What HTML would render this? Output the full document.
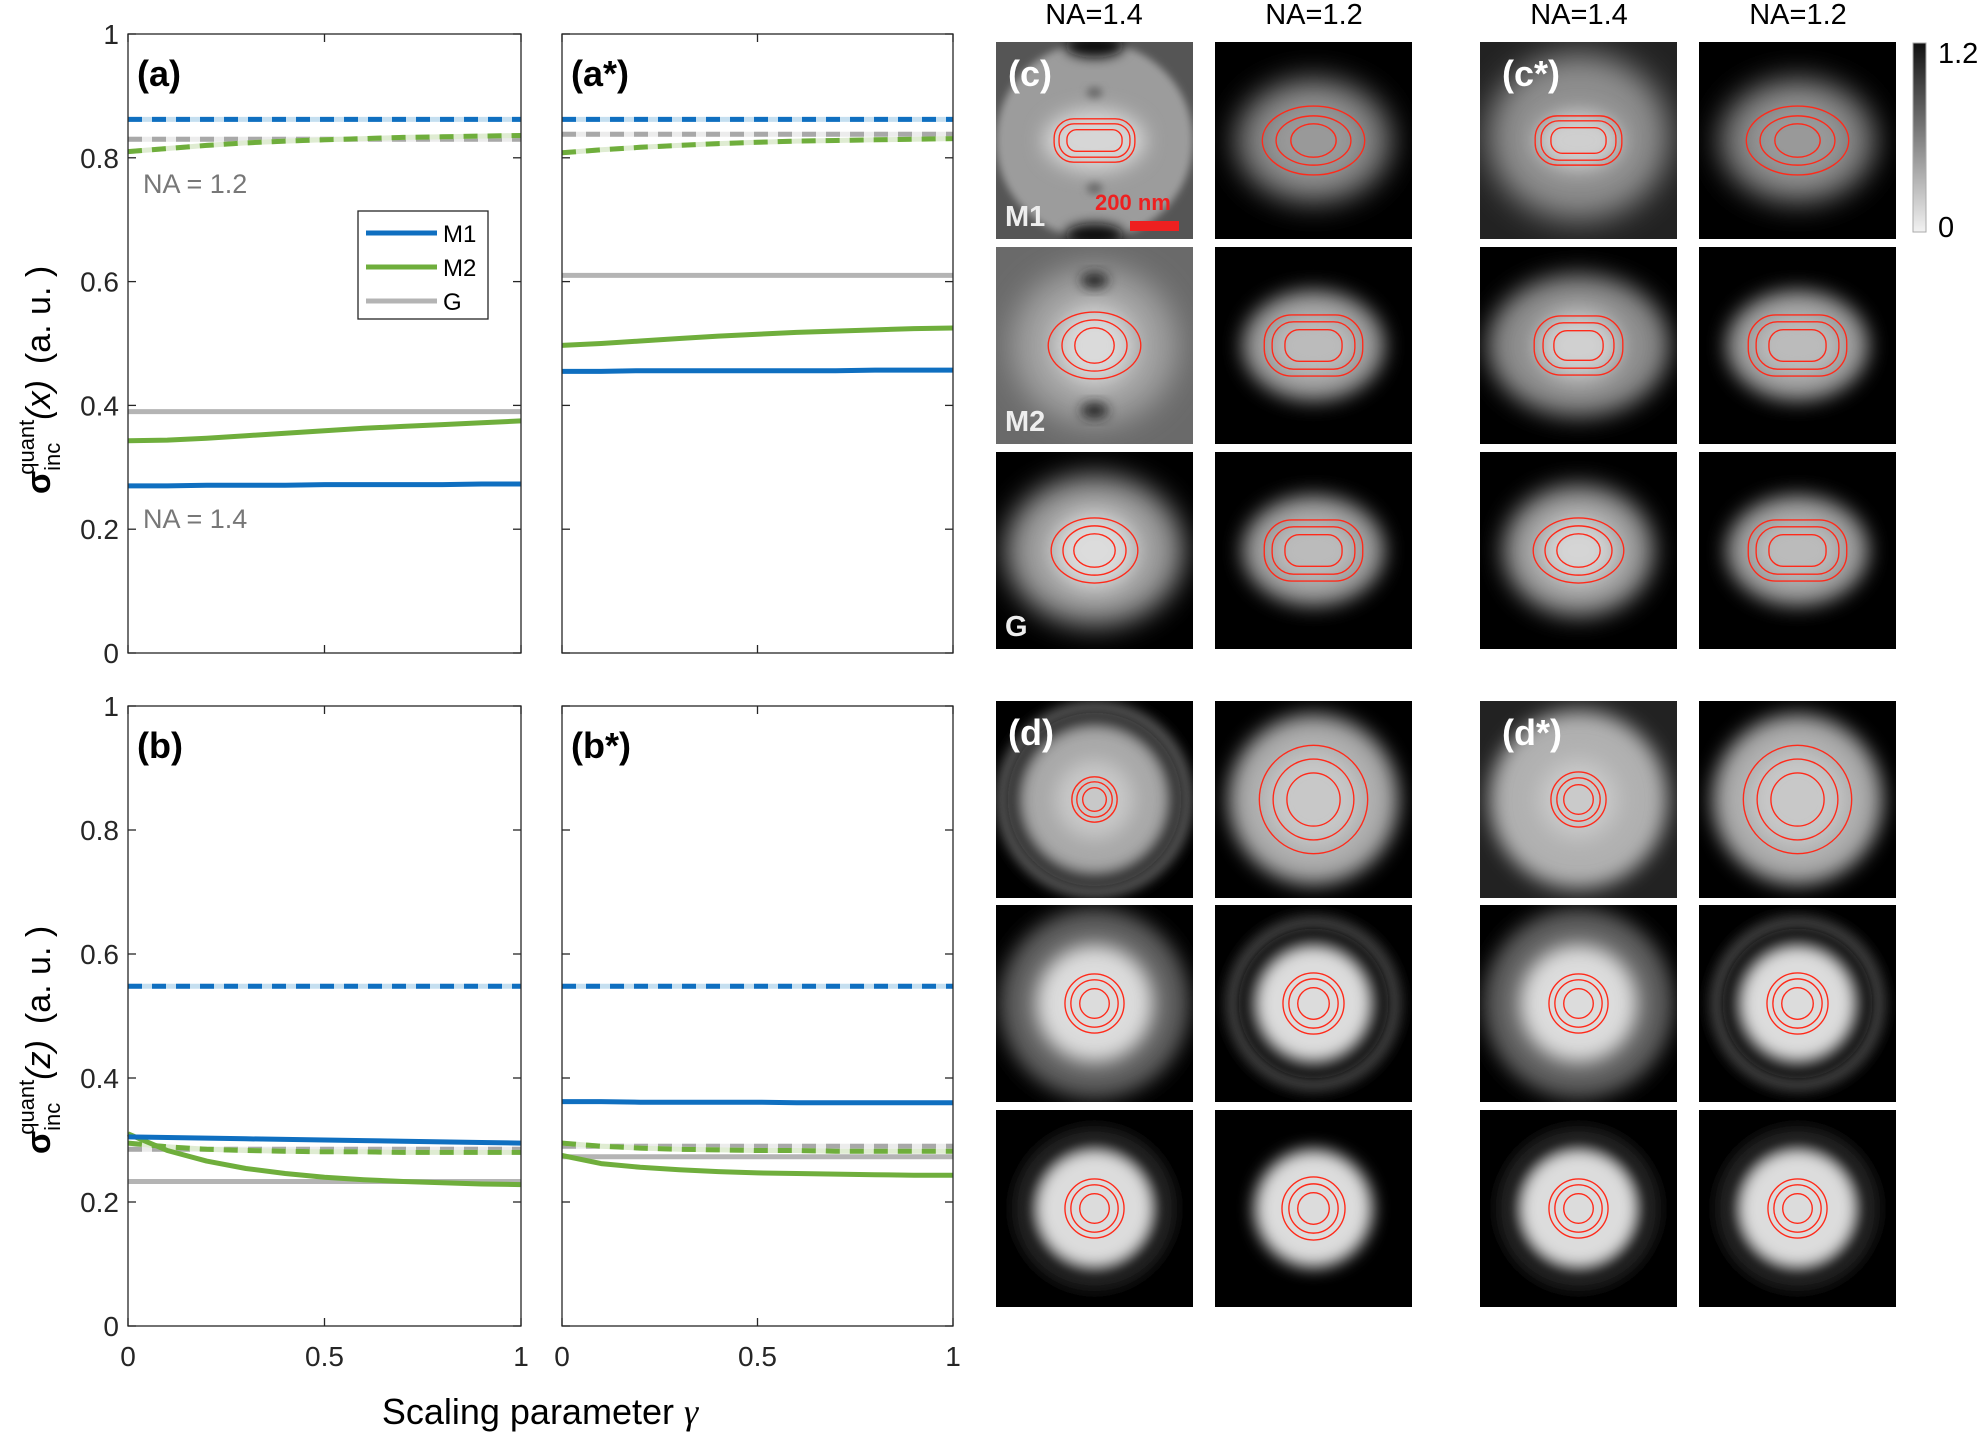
<!DOCTYPE html>
<html><head><meta charset="utf-8">
<style>
body{margin:0;background:#fff;}
#root{position:relative;width:1984px;height:1434px;overflow:hidden;font-family:"Liberation Sans",sans-serif;}
svg text{font-family:"Liberation Sans",sans-serif;}
</style></head>
<body>
<div id="root">
<svg id="main" width="1984" height="1434" viewBox="0 0 1984 1434"></svg>
</div>
<script>
// ---- data ----
const gammaX = [0, 0.1, 0.2, 0.3, 0.4, 0.5, 0.6, 0.7, 0.8, 0.9, 1];
const yTicks = [0, 0.2, 0.4, 0.6, 0.8, 1];
const yTickLabels = ["0", "0.2", "0.4", "0.6", "0.8", "1"];
const xTicks = [0, 0.5, 1];
const xTickLabels = ["0", "0.5", "1"];
// panel a
const aM1 = [0.270, 0.270, 0.271, 0.271, 0.271, 0.272, 0.272, 0.272, 0.272, 0.273, 0.273];
const aM2 = [0.343, 0.344, 0.347, 0.351, 0.355, 0.359, 0.363, 0.366, 0.369, 0.372, 0.375];
const aG = [0.390, 0.390, 0.390, 0.390, 0.390, 0.390, 0.390, 0.390, 0.390, 0.390, 0.390];
const aM1d = [0.862, 0.862, 0.862, 0.862, 0.862, 0.862, 0.862, 0.862, 0.862, 0.862, 0.862];
const aM2d = [0.810, 0.815, 0.820, 0.824, 0.827, 0.829, 0.831, 0.833, 0.834, 0.835, 0.836];
const aGd = [0.830, 0.830, 0.830, 0.830, 0.830, 0.830, 0.830, 0.830, 0.830, 0.830, 0.830];
// panel a*
const asM1 = [0.455, 0.455, 0.456, 0.456, 0.456, 0.456, 0.456, 0.456, 0.457, 0.457, 0.457];
const asM2 = [0.497, 0.500, 0.504, 0.508, 0.512, 0.515, 0.518, 0.520, 0.522, 0.524, 0.525];
const asG = [0.610, 0.610, 0.610, 0.610, 0.610, 0.610, 0.610, 0.610, 0.610, 0.610, 0.610];
const asM1d = [0.862, 0.862, 0.862, 0.862, 0.862, 0.862, 0.862, 0.862, 0.862, 0.862, 0.862];
const asM2d = [0.808, 0.813, 0.817, 0.820, 0.823, 0.825, 0.827, 0.828, 0.829, 0.830, 0.831];
const asGd = [0.838, 0.838, 0.838, 0.838, 0.838, 0.838, 0.838, 0.838, 0.838, 0.838, 0.838];
// panel b
const bM1 = [0.305, 0.304, 0.303, 0.302, 0.301, 0.300, 0.299, 0.298, 0.297, 0.296, 0.295];
const bM2 = [0.310, 0.283, 0.266, 0.254, 0.246, 0.240, 0.236, 0.233, 0.231, 0.229, 0.228];
const bG = [0.233, 0.233, 0.233, 0.233, 0.233, 0.233, 0.233, 0.233, 0.233, 0.233, 0.233];
const bM1d = [0.548, 0.548, 0.548, 0.548, 0.548, 0.548, 0.548, 0.548, 0.548, 0.548, 0.548];
const bM2d = [0.295, 0.289, 0.285, 0.283, 0.282, 0.281, 0.281, 0.280, 0.280, 0.280, 0.280];
const bGd = [0.285, 0.285, 0.285, 0.285, 0.285, 0.285, 0.285, 0.285, 0.285, 0.285, 0.285];
// panel b*
const bsM1 = [0.362, 0.362, 0.361, 0.361, 0.361, 0.361, 0.360, 0.360, 0.360, 0.360, 0.360];
const bsM2 = [0.275, 0.262, 0.256, 0.252, 0.249, 0.247, 0.246, 0.245, 0.244, 0.243, 0.243];
const bsG = [0.273, 0.273, 0.273, 0.273, 0.273, 0.273, 0.273, 0.273, 0.273, 0.273, 0.273];
const bsM1d = [0.548, 0.548, 0.548, 0.548, 0.548, 0.548, 0.548, 0.548, 0.548, 0.548, 0.548];
const bsM2d = [0.295, 0.290, 0.287, 0.285, 0.284, 0.283, 0.283, 0.282, 0.282, 0.282, 0.282];
const bsGd = [0.290, 0.290, 0.290, 0.290, 0.290, 0.290, 0.290, 0.290, 0.290, 0.290, 0.290];

const NS = "http://www.w3.org/2000/svg";
const svg = document.getElementById('main');
function mk(tag, attrs, parent){const e=document.createElementNS(NS,tag);for(const k in attrs)e.setAttribute(k,attrs[k]);(parent||svg).appendChild(e);return e;}

const COL = {M1:"#0f6fc0", M2:"#6fae3c", G:"#b4b4b4"};
const LIGHT = {M1:"#c5dff0", M2:"#dfecd2", G:"#ececec"};

const plots = [
 {id:"a", label:"(a)", x0:128, x1:521, y0:34, y1:653, xl:false, yl:true, s:{M1:aM1,M2:aM2,G:aG}, d:{M1:aM1d,M2:aM2d,G:aGd}},
 {id:"a-star", label:"(a*)", x0:562, x1:953, y0:34, y1:653, xl:false, yl:false, s:{M1:asM1,M2:asM2,G:asG}, d:{M1:asM1d,M2:asM2d,G:asGd}},
 {id:"b", label:"(b)", x0:128, x1:521, y0:706, y1:1326, xl:true, yl:true, s:{M1:bM1,M2:bM2,G:bG}, d:{M1:bM1d,M2:bM2d,G:bGd}},
 {id:"b-star", label:"(b*)", x0:562, x1:953, y0:706, y1:1326, xl:true, yl:false, s:{M1:bsM1,M2:bsM2,G:bsG}, d:{M1:bsM1d,M2:bsM2d,G:bsGd}},
];

plots.forEach(p=>{
  const g = mk('g',{});
  
  
  const xs = v => p.x0 + v*(p.x1-p.x0);
  const ys = v => p.y1 - v*(p.y1-p.y0);
  const path = arr => arr.map((v,i)=>(i?'L':'M')+xs(gammaX[i]).toFixed(1)+' '+ys(v).toFixed(1)).join(' ');
  ["G","M2","M1"].forEach(k=>{
    const u = mk('path',{d:path(p.d[k]),fill:'none',stroke:LIGHT[k],'stroke-width':5},g);
    
    
    const l = mk('path',{d:path(p.d[k]),fill:'none',stroke:k==="G"?"#a8a8a8":COL[k],'stroke-width':5,'stroke-dasharray':'14 10'},g);
    
    
  });
  ["G","M2","M1"].forEach(k=>{
    const l = mk('path',{d:path(p.s[k]),fill:'none',stroke:COL[k],'stroke-width':5,'stroke-linejoin':'round'},g);
    
    
  });
  const box = mk('rect',{x:p.x0,y:p.y0,width:p.x1-p.x0,height:p.y1-p.y0,fill:'none',stroke:'#262626','stroke-width':1.3},g);
  
  
  yTicks.forEach((t,i)=>{
    mk('line',{x1:p.x0,x2:p.x0+8,y1:ys(t),y2:ys(t),stroke:'#262626','stroke-width':1.3},g);
    mk('line',{x1:p.x1,x2:p.x1-8,y1:ys(t),y2:ys(t),stroke:'#262626','stroke-width':1.3},g);
    if(p.yl){
      const tl = mk('text',{x:p.x0-9,y:ys(t)+10,'text-anchor':'end','font-size':28,fill:'#262626'},g);
      tl.textContent = yTickLabels[i];
      
      
    }
  });
  xTicks.forEach((t,i)=>{
    mk('line',{x1:xs(t),x2:xs(t),y1:p.y1,y2:p.y1-8,stroke:'#262626','stroke-width':1.3},g);
    mk('line',{x1:xs(t),x2:xs(t),y1:p.y0,y2:p.y0+8,stroke:'#262626','stroke-width':1.3},g);
    if(p.xl){
      const tl = mk('text',{x:xs(t),y:p.y1+40,'text-anchor':'middle','font-size':28,fill:'#262626'},g);
      tl.textContent = xTickLabels[i];
      
      
    }
  });
  const pl = mk('text',{x:p.x0+9,y:p.y0+52,'font-size':36,'font-weight':'bold',fill:'#000'},g);
  pl.textContent = p.label;
  
  
});

[["NA = 1.2",143,193],["NA = 1.4",143,528]].forEach(a=>{
  const t = mk('text',{x:a[1],y:a[2],'font-size':27,fill:'#777'});
  t.textContent=a[0];
  
  
});
(function(){
  const g = mk('g',{});
  
  
  mk('rect',{x:358,y:211,width:130,height:108,fill:'#fff',stroke:'#262626','stroke-width':1.3},g);
  [["M1",COL.M1,233],["M2",COL.M2,267],["G",COL.G,301]].forEach(e=>{
    const eg = mk('g',{},g);
    
    
    mk('line',{x1:366,x2:437,y1:e[2],y2:e[2],stroke:e[1],'stroke-width':5},eg);
    const t = mk('text',{x:443,y:e[2]+9,'font-size':24,fill:'#000'},eg);
    t.textContent=e[0];
  });
})();
[[380,"x"],[1040,"z"]].forEach(a=>{
  const t = mk('text',{transform:`translate(50,${a[0]}) rotate(-90)`,'text-anchor':'middle','font-size':34,fill:'#000','font-family':'Liberation Serif, serif'});
  
  
  t.innerHTML = `<tspan font-weight="bold">σ</tspan><tspan font-size="22" dy="10">inc</tspan><tspan font-size="22" dy="-26" dx="-32">quant</tspan><tspan dy="16" font-style="italic">(${a[1]})</tspan><tspan dx="16">(a. u. )</tspan>`;
});
const xt = mk('text',{x:540,y:1424,'text-anchor':'middle','font-size':36,fill:'#000'});


xt.innerHTML='Scaling parameter <tspan font-style="italic" font-family="Liberation Serif, serif">γ</tspan>';

[["NA=1.4",1094],["NA=1.2",1314],["NA=1.4",1579],["NA=1.2",1798]].forEach(h=>{
  const t = mk('text',{x:h[1],y:24,'text-anchor':'middle','font-size':29,fill:'#000'});
  t.textContent=h[0];
  
  
});

// ---- image panels ----
const defs = mk('defs',{});
[2,3,4,5,6,7,8].forEach(b=>{const f=mk('filter',{id:'bl'+b,x:'-50%',y:'-50%',width:'200%',height:'200%'},defs);mk('feGaussianBlur',{stdDeviation:b},f);});
const colsX=[996,1215,1480,1699], rowsY=[42,247,452,701,905,1110], PW=197, PH=197;
const L=(cx,cy,rx,ry,fill,b)=>({cx,cy,rx,ry,fill,b});
const E3=(a,b,c,d,e,f)=>[['e',a,b],['e',c,d],['e',e,f]];
const R3=(a,b,c,d,e,f)=>[['r',a,b],['r',c,d],['r',e,f]];
const cA={bg:'#000',L:[L(50,50,40,32,'#777',7),L(50,50,25,20,'#999',6)],C:E3(52,35,38,25,23,17)};
const cB={bg:'#000',L:[L(50,50,36,28,'#999',5),L(50,50,22,16,'#bbb',5)],C:R3(50,31,42,24,29,16)};
const dBig={bg:'#000',L:[L(50,50,43,43,'#a8a8a8',5),L(50,50,25,25,'#c8c8c8',6)],C:E3(55,55,41,41,27,27)};
const dA={bg:'#000',L:[L(50,50,48,48,'#5e5e5e',5),L(50,50,30,30,'#dcdcdc',5)],C:E3(30,30,24,24,15,15)};
const dB={bg:'#000',L:[L(50,50,45,45,'#3a3a3a',3),L(50,50,38,38,'#0c0c0c',2),L(50,50,30,30,'#dcdcdc',4)],C:E3(31,31,25,25,16,16)};
const dC={bg:'#000',L:[L(50,50,42,42,'#1e1e1e',3),L(50,50,36,36,'#050505',2),L(50,50,31,31,'#dcdcdc',4)],C:E3(30,30,24,24,15,15)};
const panels=[
 [{bg:'#555',L:[L(50,50,50,50,'#9c9c9c',2),L(50,2,15,6,'#111',3),L(50,98,15,6,'#111',3),L(50,26,4,3,'#666',2),L(50,74,4,3,'#666',2),L(50,50,26,16,'#d6d6d6',5)],C:R3(41,22,36,17,28,11)}, cA,
  {bg:'#222',L:[L(50,48,46,42,'#8e8e8e',8),L(50,50,22,15,'#cfcfcf',5)],C:R3(44,25,38,20,28,13)}, cA],
 [{bg:'#6a6a6a',L:[L(50,50,42,40,'#a2a2a2',8),L(50,50,20,20,'#dadada',6),L(50,17,7,4,'#222',3),L(50,83,7,4,'#222',3)],C:E3(47,34,33,26,20,18)}, cB,
  {bg:'#000',L:[L(50,50,46,36,'#8a8a8a',6),L(50,50,22,18,'#d0d0d0',6)],C:R3(45,30,36,23,25,15)}, cB],
 [{bg:'#000',L:[L(50,50,45,38,'#9a9a9a',7),L(50,50,22,20,'#dcdcdc',6)],C:E3(44,33,32,25,21,17)}, cB,
  {bg:'#000',L:[L(50,50,38,33,'#9a9a9a',6),L(50,50,20,17,'#d5d5d5',6)],C:E3(46,33,34,25,22,17)}, cB],
 [{bg:'#000',L:[L(50,50,50,50,'#5c5c5c',3),L(50,50,44,44,'#0e0e0e',3),L(50,50,39,39,'#a8a8a8',4),L(50,50,20,20,'#c8c8c8',5)],C:E3(23,23,18,18,12,12)}, dBig,
  {bg:'#222',L:[L(50,50,45,45,'#b0b0b0',5),L(50,50,20,20,'#cacaca',6)],C:E3(28,28,22,22,15,15)}, dBig],
 [dA,dB,dA,dB],
 [dC,{bg:'#000',L:[L(50,50,30,30,'#dcdcdc',4)],C:E3(32,32,25,25,16,16)},dC,dC]
];
panels.forEach((row,ri)=>row.forEach((sp,ci)=>{
  const x=colsX[ci], y=rowsY[ri];
  const g = mk('svg',{x:x,y:y,width:PW,height:PH,viewBox:'0 0 100 100',preserveAspectRatio:'none'});
  
  
  mk('rect',{x:0,y:0,width:100,height:100,fill:sp.bg},g);
  sp.L.forEach(l=>mk('ellipse',{cx:l.cx,cy:l.cy,rx:l.rx,ry:l.ry,fill:l.fill,filter:'url(#bl'+l.b+')'},g));
  sp.C.forEach(c=>{
    const w=c[1],h=c[2];
    if(c[0]==='e') mk('ellipse',{cx:50,cy:50,rx:w/2,ry:h/2,fill:'none',stroke:'#ff2a1a','stroke-width':0.7},g);
    else mk('rect',{x:50-w/2,y:50-h/2,width:w,height:h,rx:h/2*0.9,ry:h/2*0.9,fill:'none',stroke:'#ff2a1a','stroke-width':0.7},g);
  });
}));
[["(c)",1008,86],["(c*)",1502,86],["(d)",1008,745],["(d*)",1502,745]].forEach(a=>{
  const t=mk('text',{x:a[1],y:a[2],'font-size':36,'font-weight':'bold',fill:'#fff'});
  t.textContent=a[0];
  
  
});
[["M1",1005,226],["M2",1005,431],["G",1005,636]].forEach(a=>{
  const t=mk('text',{x:a[1],y:a[2],'font-size':29,'font-weight':'bold',fill:'#eee'});
  t.textContent=a[0];
  
  
});
const sb=mk('text',{x:1095,y:210,'font-size':22,'font-weight':'bold',fill:'#ee2020'});
sb.textContent='200 nm';


const sbr=mk('rect',{x:1130,y:221,width:49,height:10,fill:'#ee2020'});


const lg=mk('linearGradient',{id:'cb',x1:0,y1:1,x2:0,y2:0},defs);
mk('stop',{offset:0,'stop-color':'#f2f2f2'},lg);mk('stop',{offset:1,'stop-color':'#111'},lg);
const cbr=mk('rect',{x:1913,y:43,width:13,height:189,fill:'url(#cb)',stroke:'#aaa','stroke-width':1});


[["1.2",1938,63],["0",1938,237]].forEach(a=>{
  const t=mk('text',{x:a[1],y:a[2],'font-size':29,fill:'#000'});
  t.textContent=a[0];
  
  
});
</script>
</body></html>
